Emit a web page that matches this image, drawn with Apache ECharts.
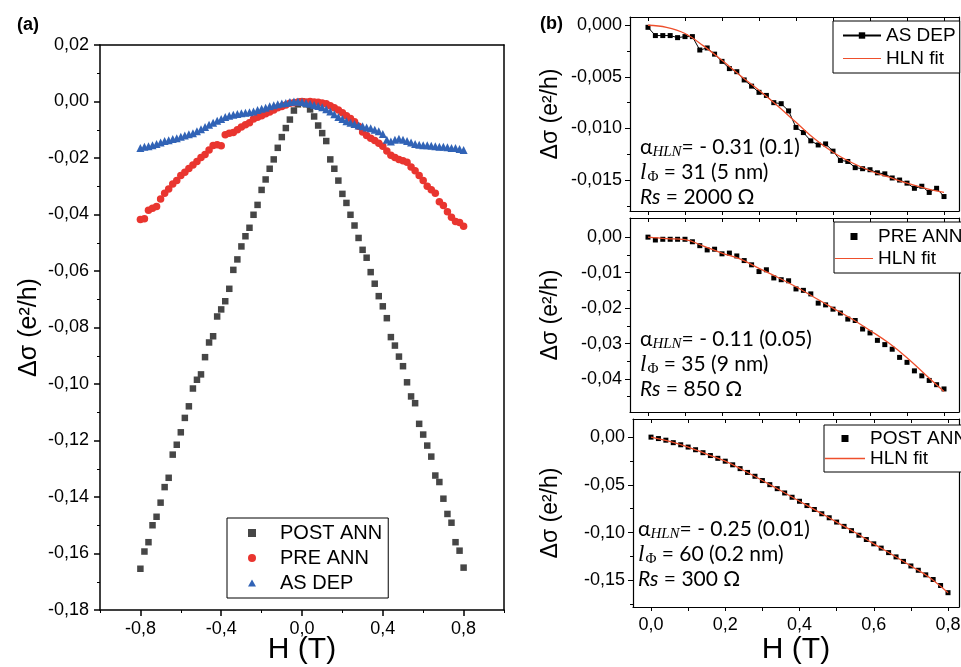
<!DOCTYPE html>
<html><head><meta charset="utf-8">
<script src="https://cdn.jsdelivr.net/npm/echarts@6/dist/echarts.min.js"></script>
<style>html,body{margin:0;padding:0;background:#fff}#c{width:961px;height:667px}</style>
</head><body><div id="c"></div>
<script>
// ---------- Panel (a) data ----------
const H_A = [-0.80,-0.78,-0.76,-0.74,-0.72,-0.70,-0.68,-0.66,-0.64,-0.62,-0.60,-0.58,-0.56,-0.54,-0.52,-0.50,-0.48,-0.46,-0.44,-0.42,-0.40,-0.38,-0.36,-0.34,-0.32,-0.30,-0.28,-0.26,-0.24,-0.22,-0.20,-0.18,-0.16,-0.14,-0.12,-0.10,-0.08,-0.06,-0.04,-0.02,0.00,0.02,0.04,0.06,0.08,0.10,0.12,0.14,0.16,0.18,0.20,0.22,0.24,0.26,0.28,0.30,0.32,0.34,0.36,0.38,0.40,0.42,0.44,0.46,0.48,0.50,0.52,0.54,0.56,0.58,0.60,0.62,0.64,0.66,0.68,0.70,0.72,0.74,0.76,0.78,0.80];
const POST_A = [-0.1654,-0.1593,-0.1560,-0.1500,-0.1470,-0.1420,-0.1365,-0.1332,-0.1250,-0.1215,-0.1171,-0.1120,-0.1079,-0.1016,-0.0985,-0.0966,-0.0905,-0.0853,-0.0831,-0.0761,-0.0736,-0.0707,-0.0663,-0.0596,-0.0559,-0.0513,-0.0477,-0.0447,-0.0401,-0.0366,-0.0313,-0.0276,-0.0238,-0.0205,-0.0164,-0.0126,-0.0094,-0.0064,-0.0032,-0.0010,
  0.0000,
  -0.0010,-0.0028,-0.0053,-0.0085,-0.0112,-0.0140,-0.0205,-0.0238,-0.0280,-0.0327,-0.0359,-0.0401,-0.0439,-0.0483,-0.0525,-0.0553,-0.0604,-0.0645,-0.0689,-0.0725,-0.0767,-0.0834,-0.0864,-0.0903,-0.0937,-0.0994,-0.1044,-0.1068,-0.1141,-0.1179,-0.1218,-0.1257,-0.1324,-0.1347,-0.1406,-0.1460,-0.1491,-0.1560,-0.1590,-0.1650];
const PRE_A = [-0.0418,-0.0415,-0.0385,-0.0378,-0.0372,-0.0345,-0.0325,-0.0310,-0.0292,-0.0280,-0.0262,-0.0250,-0.0237,-0.0225,-0.0212,-0.0198,-0.0188,-0.0172,-0.0156,-0.0153,-0.0157,-0.0118,-0.0112,-0.0110,-0.0100,-0.0090,-0.0082,-0.0075,-0.0062,-0.0056,-0.0050,-0.0043,-0.0037,-0.0030,-0.0022,-0.0018,-0.0012,-0.0006,-0.0004,-0.0002,
  0.0000,
  -0.0002,0.0000,-0.0002,-0.0003,-0.0005,-0.0008,-0.0015,-0.0022,-0.0030,-0.0040,-0.0050,-0.0060,-0.0072,-0.0088,-0.0108,-0.0120,-0.0130,-0.0138,-0.0148,-0.0158,-0.0175,-0.0190,-0.0198,-0.0205,-0.0210,-0.0215,-0.0232,-0.0245,-0.0262,-0.0280,-0.0300,-0.0312,-0.0325,-0.0355,-0.0368,-0.0390,-0.0410,-0.0425,-0.0428,-0.0442];
const AS_A = [-0.0165,-0.0160,-0.0158,-0.0155,-0.0150,-0.0145,-0.0140,-0.0137,-0.0133,-0.0130,-0.0125,-0.0120,-0.0116,-0.0112,-0.0105,-0.0098,-0.0090,-0.0082,-0.0075,-0.0068,-0.0062,-0.0055,-0.0050,-0.0047,-0.0044,-0.0042,-0.0040,-0.0038,-0.0035,-0.0030,-0.0026,-0.0022,-0.0017,-0.0013,-0.0010,-0.0007,-0.0005,-0.0002,0.0000,0.0000,
  -0.0002,
  -0.0005,-0.0008,-0.0012,-0.0016,-0.0020,-0.0027,-0.0035,-0.0045,-0.0055,-0.0062,-0.0070,-0.0075,-0.0080,-0.0085,-0.0088,-0.0092,-0.0095,-0.0100,-0.0105,-0.0115,-0.0135,-0.0142,-0.0135,-0.0132,-0.0135,-0.0140,-0.0145,-0.0150,-0.0153,-0.0155,-0.0155,-0.0157,-0.0158,-0.0160,-0.0160,-0.0162,-0.0165,-0.0165,-0.0168,-0.0172];
const X_TICKS_A = [-0.8,-0.4,0.0,0.4,0.8];
const X_MINOR_A = [-1.0,-0.6,-0.2,0.2,0.6,1.0];

// ---------- Panel (b) data ----------
const H_B = [0.00,0.02,0.04,0.06,0.08,0.10,0.12,0.14,0.16,0.18,0.20,0.22,0.24,0.26,0.28,0.30,0.32,0.34,0.36,0.38,0.40,0.42,0.44,0.46,0.48,0.50,0.52,0.54,0.56,0.58,0.60,0.62,0.64,0.66,0.68,0.70,0.72,0.74,0.76,0.78,0.80];
const AS_B = [-0.0002,-0.0010,-0.0010,-0.0010,-0.0012,-0.0011,-0.0011,-0.0024,-0.0022,-0.0028,-0.0035,-0.0042,-0.0045,-0.0053,-0.0059,-0.0065,-0.0068,-0.0075,-0.0076,-0.0083,-0.0099,-0.0104,-0.0112,-0.0116,-0.0115,-0.0122,-0.0131,-0.0132,-0.0138,-0.0139,-0.0140,-0.0143,-0.0144,-0.0148,-0.0150,-0.0153,-0.0158,-0.0156,-0.0162,-0.0158,-0.0166];
const PRE_B = [0.0000,-0.0008,-0.0006,-0.0006,-0.0006,-0.0006,-0.0013,-0.0024,-0.0036,-0.0034,-0.0047,-0.0045,-0.0053,-0.0066,-0.0078,-0.0097,-0.0092,-0.0115,-0.0120,-0.0123,-0.0146,-0.0150,-0.0160,-0.0186,-0.0191,-0.0203,-0.0214,-0.0231,-0.0235,-0.0259,-0.0270,-0.0291,-0.0303,-0.0316,-0.0339,-0.0353,-0.0377,-0.0391,-0.0404,-0.0416,-0.0428];
const POST_B = [0.0000,-0.0015,-0.0032,-0.0058,-0.0080,-0.0104,-0.0132,-0.0163,-0.0193,-0.0222,-0.0252,-0.0290,-0.0330,-0.0370,-0.0410,-0.0455,-0.0498,-0.0540,-0.0585,-0.0630,-0.0672,-0.0717,-0.0758,-0.0803,-0.0845,-0.0890,-0.0935,-0.0980,-0.1028,-0.1073,-0.1118,-0.1163,-0.1210,-0.1255,-0.1302,-0.1350,-0.1395,-0.1443,-0.1492,-0.1555,-0.1630];
const H_FIT = [0.00,0.05,0.10,0.15,0.20,0.25,0.30,0.35,0.40,0.45,0.50,0.55,0.60,0.65,0.70,0.75,0.80];
const FIT_AS = [0.0000,-0.0002,-0.0008,-0.0020,-0.0034,-0.0049,-0.0063,-0.0078,-0.0094,-0.0110,-0.0123,-0.0133,-0.0141,-0.0147,-0.0153,-0.0158,-0.0162];
const FIT_PRE = [0.0000,-0.0004,-0.0007,-0.0025,-0.0045,-0.0062,-0.0088,-0.0113,-0.0140,-0.0170,-0.0200,-0.0230,-0.0263,-0.0298,-0.0340,-0.0388,-0.0435];
const FIT_POST = [0.0000,-0.0045,-0.0104,-0.0178,-0.0252,-0.0350,-0.0455,-0.0562,-0.0672,-0.0780,-0.0890,-0.1000,-0.1118,-0.1232,-0.1350,-0.1470,-0.1630];
const X_TICKS_B = [0.0,0.1,0.2,0.3,0.4,0.5,0.6,0.7,0.8];
const X_LABELS_B = [0.0,0.2,0.4,0.6,0.8];
const Y_TICKS_B1 = [0.000,-0.005,-0.010,-0.015];
const Y_MINOR_B1 = [-0.0025,-0.0075,-0.0125,-0.0175];
const Y_TICKS_B2 = [0.00,-0.01,-0.02,-0.03,-0.04];
const Y_MINOR_B2 = [-0.005,-0.015,-0.025,-0.035,-0.045];
const Y_TICKS_B3 = [0.00,-0.05,-0.10,-0.15];
const Y_MINOR_B3 = [-0.025,-0.075,-0.125,-0.175];

const YLABEL = 'Δσ (e\u00B2/h)';
const FONT = 'Liberation Sans';
const BLACK = '#000';

function zip(xs, ys){ return xs.map((x,i)=>[x, ys[i]]); }
function fmt(n){ return function(v){ const p = Math.pow(10,n); let r = Math.round(v*p)/p; if (Math.abs(r) < 1e-12) r = 0; return r.toFixed(n).replace('.', ','); }; }

const chart = echarts.init(document.getElementById('c'), null, {renderer:'canvas'});

const lineBase = (w) => ({ show:true, onZero:false, lineStyle:{color:BLACK, width:w} });
function frameAxis(gridIndex, position, min, max, w){
  return { type:'value', gridIndex, position, min, max,
    axisLine: lineBase(w), axisTick:{show:false}, axisLabel:{show:false}, splitLine:{show:false} };
}
function tickAxis(gridIndex, position, min, max, vals, len, inside, lineW){
  return {
    type:'value', gridIndex, position, min, max,
    axisLine: lineW ? lineBase(lineW) : {show:false, onZero:false},
    axisTick:{show:true, customValues: vals, length: len, inside: !!inside, lineStyle:{color:BLACK, width:1}},
    axisLabel:{show:false}, splitLine:{show:false}
  };
}

const XB = [-0.0486, 0.8405];
const XB3 = [-0.0485, 0.8296];

const xAxis = [
  // panel a
  { type:'value', gridIndex:0, position:'bottom', min:-1, max:1,
    axisLine: lineBase(1.5),
    axisTick:{show:true, customValues:X_TICKS_A, length:6, lineStyle:{color:BLACK, width:1.5}},
    axisLabel:{customValues:X_TICKS_A, formatter:fmt(1), color:BLACK, fontSize:18, fontFamily:FONT, margin:10},
    splitLine:{show:false},
    name:'H (T)', nameLocation:'middle', nameGap:25, nameMoveOverlap:false,
    nameTextStyle:{fontSize:30, fontFamily:FONT, color:BLACK} },
  tickAxis(0, 'bottom', -1, 1, X_MINOR_A, 3, false),
  frameAxis(0, 'top', -1, 1, 1.5),
  // panel b1
  tickAxis(1, 'bottom', XB[0], XB[1], X_TICKS_B, 4, false, 1.2),
  tickAxis(1, 'top', XB[0], XB[1], X_TICKS_B, 4, true, 1.2),
  // panel b2
  tickAxis(2, 'bottom', XB[0], XB[1], X_TICKS_B, 4, false, 1.2),
  tickAxis(2, 'top', XB[0], XB[1], X_TICKS_B, 4, true, 1.2),
  // panel b3
  { type:'value', gridIndex:3, position:'bottom', min:XB3[0], max:XB3[1],
    axisLine: lineBase(1.2),
    axisTick:{show:true, customValues:X_TICKS_B, length:4, lineStyle:{color:BLACK, width:1}},
    axisLabel:{customValues:X_LABELS_B, formatter:fmt(1), color:BLACK, fontSize:18, fontFamily:FONT, margin:9},
    splitLine:{show:false},
    name:'H (T)', nameLocation:'middle', nameGap:28, nameMoveOverlap:false,
    nameTextStyle:{fontSize:30, fontFamily:FONT, color:BLACK} },
  tickAxis(3, 'top', XB3[0], XB3[1], X_TICKS_B, 4, true, 1.2)
];

function yMain(gridIndex, min, max, ticks, digits, gap){
  return { type:'value', gridIndex, position:'left', min, max,
    axisLine: lineBase(1.2),
    axisTick:{show:true, customValues:ticks, length:5, lineStyle:{color:BLACK, width:1}},
    axisLabel:{customValues:ticks, formatter:fmt(digits), color:BLACK, fontSize:18, fontFamily:FONT, margin:8},
    splitLine:{show:false},
    name:YLABEL, nameLocation:'middle', nameGap:gap, nameRotate:90,
    nameTextStyle:{fontSize:23, fontFamily:FONT, color:BLACK} };
}

const yAxis = [
  // panel a
  { type:'value', gridIndex:0, position:'left', min:-0.18, max:0.02, interval:0.02,
    axisLine: lineBase(1.5),
    axisTick:{show:true, length:6, lineStyle:{color:BLACK, width:1.5}},
    minorTick:{show:true, splitNumber:2, length:3, lineStyle:{color:BLACK, width:1}},
    axisLabel:{formatter:fmt(2), color:BLACK, fontSize:18, fontFamily:FONT, margin:11},
    splitLine:{show:false},
    name:YLABEL, nameLocation:'middle', nameGap:58, nameRotate:90,
    nameTextStyle:{fontSize:25, fontFamily:FONT, color:BLACK} },
  frameAxis(0, 'right', -0.18, 0.02, 1.5),
  // b1
  yMain(1, -0.018, 0.0008, Y_TICKS_B1, 3, 68),
  tickAxis(1, 'left', -0.018, 0.0008, Y_MINOR_B1, 3, false),
  frameAxis(1, 'right', -0.018, 0.0008, 1.2),
  // b2
  yMain(2, -0.0493, 0.0054, Y_TICKS_B2, 2, 68),
  tickAxis(2, 'left', -0.0493, 0.0054, Y_MINOR_B2, 3, false),
  frameAxis(2, 'right', -0.0493, 0.0054, 1.2),
  // b3
  yMain(3, -0.178, 0.019, Y_TICKS_B3, 2, 71),
  tickAxis(3, 'left', -0.178, 0.019, Y_MINOR_B3, 3, false),
  frameAxis(3, 'right', -0.178, 0.019, 1.2)
];

const grid = [
  {left:100, top:45, width:404, height:565, outerBoundsMode:'none', containLabel:false},
  {left:630, top:17, width:329, height:194, outerBoundsMode:'none', containLabel:false},
  {left:630, top:218, width:329, height:194, outerBoundsMode:'none', containLabel:false},
  {left:633, top:419, width:326, height:188, outerBoundsMode:'none', containLabel:false}
];

const RED = '#e9352f', BLUE = '#3163b6', GRAY = '#464646', FITC = '#ee4f2c';
const SQ = 'path://M0,0H10V10H0Z', TRI = 'path://M5,0L10,9H0Z', FITICON = 'path://M0,0H40V1.3H0Z';
const NAMES = {'AS DEP (b)':'AS DEP','PRE ANN (b)':'PRE ANN','POST ANN (b)':'POST ANN','HLN fit 1':'HLN fit','HLN fit 2':'HLN fit','HLN fit 3':'HLN fit'};
const legFmt = n => NAMES[n] || n;
const legBase = { orient:'vertical', selectedMode:false, borderColor:BLACK, borderWidth:1, borderRadius:0,
  backgroundColor:'#fff', formatter:legFmt };

const legend = [
  Object.assign({}, legBase, { left:227, top:518, itemWidth:8, itemHeight:8, itemGap:5, padding:[5,6,5,21],
    textStyle:{fontSize:20, lineHeight:20, fontFamily:FONT, color:BLACK, padding:[0,0,0,19]},
    data:[{name:'POST ANN', icon:SQ},{name:'PRE ANN', icon:'circle'},{name:'AS DEP', icon:TRI}] }),
  Object.assign({}, legBase, { left:833, top:21, itemWidth:38, itemHeight:8, itemGap:4, padding:[5,4,5,9],
    textStyle:{fontSize:19, lineHeight:18, fontFamily:FONT, color:BLACK},
    data:[{name:'AS DEP (b)'},{name:'HLN fit 1', icon:FITICON}] }),
  Object.assign({}, legBase, { left:834, top:222, itemWidth:38, itemHeight:7, itemGap:3, padding:[5,4,5,1],
    textStyle:{fontSize:19, lineHeight:18, fontFamily:FONT, color:BLACK},
    data:[{name:'PRE ANN (b)', icon:SQ},{name:'HLN fit 2', icon:FITICON}] }),
  Object.assign({}, legBase, { left:824, top:425, itemWidth:40, itemHeight:7, itemGap:1, padding:[4,4,4,1],
    textStyle:{fontSize:19, lineHeight:18, fontFamily:FONT, color:BLACK},
    data:[{name:'POST ANN (b)', icon:SQ},{name:'HLN fit 3', icon:FITICON}] })
];

function fitSeries(name, xi, yi, xs, ys){
  return { name, type:'line', xAxisIndex:xi, yAxisIndex:yi, data:zip(xs, ys), smooth:0.4, symbol:'none',
    itemStyle:{color:FITC}, lineStyle:{color:FITC, width:1.3}, z:4 };
}
function dotSeries(name, xi, yi, xs, ys, sym, size, color){
  return { name, type:'scatter', xAxisIndex:xi, yAxisIndex:yi, data:zip(xs, ys), symbol:sym, symbolSize:size,
    itemStyle:{color, opacity:1}, z:3 };
}

const series = [
  dotSeries('POST ANN', 0, 0, H_A, POST_A, 'rect', 6.5, GRAY),
  dotSeries('PRE ANN', 0, 0, H_A, PRE_A, 'circle', 7.5, RED),
  dotSeries('AS DEP', 0, 0, H_A, AS_A, 'triangle', 8, BLUE),
  { name:'AS DEP (b)', type:'line', xAxisIndex:3, yAxisIndex:2, data:zip(H_B, AS_B), symbol:'rect', symbolSize:5,
    showAllSymbol:true, itemStyle:{color:BLACK}, lineStyle:{color:BLACK, width:1}, z:3 },
  fitSeries('HLN fit 1', 3, 2, H_FIT, FIT_AS),
  dotSeries('PRE ANN (b)', 5, 5, H_B, PRE_B, 'rect', 5, BLACK),
  fitSeries('HLN fit 2', 5, 5, H_FIT, FIT_PRE),
  dotSeries('POST ANN (b)', 7, 8, H_B, POST_B, 'rect', 5, BLACK),
  fitSeries('HLN fit 3', 7, 8, H_FIT, FIT_POST)
];

const richAnn = {
  n:{fontFamily:'Lato', fontSize:21, lineHeight:25, color:BLACK},
  sub:{fontFamily:'Liberation Serif', fontStyle:'italic', fontSize:15, lineHeight:12, verticalAlign:'bottom', color:BLACK},
  subu:{fontFamily:'Liberation Serif', fontSize:15, lineHeight:12, verticalAlign:'bottom', color:BLACK},
  il:{fontFamily:'Liberation Serif', fontStyle:'italic', fontSize:23, lineHeight:25, color:BLACK, padding:[0,1,0,0]},
  it:{fontFamily:'Lato', fontStyle:'italic', fontSize:21, lineHeight:25, color:BLACK}
};
function ann(x, y, alpha, lphi, rs){
  return { type:'text', left:x, top:y, z:10,
    style:{ text:'{n|α}{sub|HLN}{n|= - '+alpha+'}\n{il|l}{subu|Φ}{n| = '+lphi+'}\n{it|Rs}{n| = '+rs+' Ω}', rich:richAnn } };
}

const graphic = [
  { type:'text', left:17, top:16, style:{text:'(a)', font:'bold 18px "Liberation Sans"', fill:BLACK} },
  { type:'text', left:540, top:15, style:{text:'(b)', font:'bold 18px "Liberation Sans"', fill:BLACK} },
  ann(640, 137, '0.31 (0.1)', '31 (5 nm)', '2000'),
  ann(640, 329, '0.11 (0.05)', '35 (9 nm)', '850'),
  ann(638, 519, '0.25 (0.01)', '60 (0.2 nm)', '300')
];

chart.setOption({ animation:false, backgroundColor:'#fff', grid, xAxis, yAxis, legend, series, graphic });
</script></body></html>
